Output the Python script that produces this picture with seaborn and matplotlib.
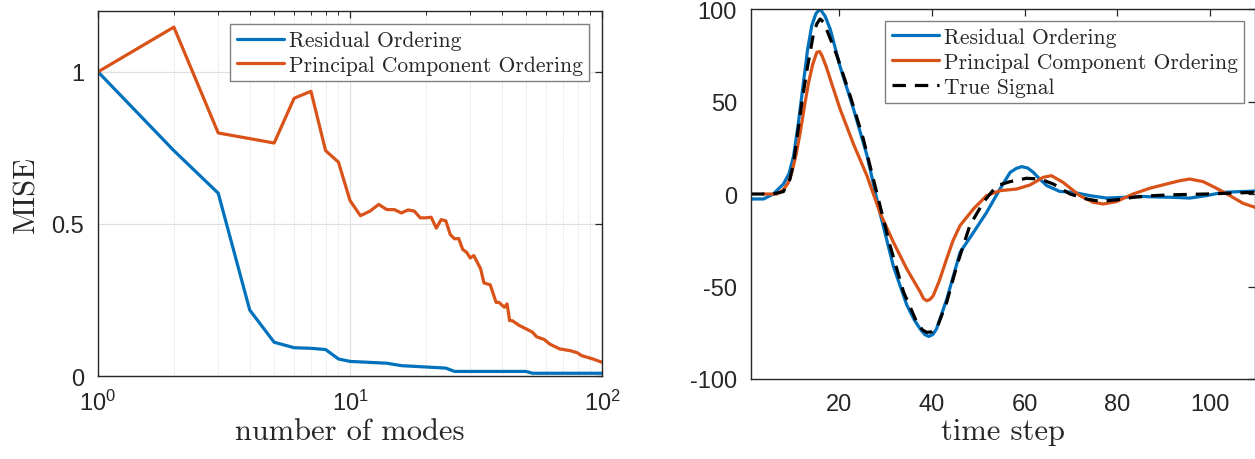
import numpy as np
import pandas as pd
import matplotlib
matplotlib.use("Agg")
import matplotlib.pyplot as plt
import matplotlib.ticker as mticker
import seaborn as sns

# ---- data ----
# left panel: MISE vs number of modes (vertices of the two curves)
res_modes = [1, 2, 3, 4, 5, 6, 7, 8, 9, 10, 14, 16, 24, 26, 50, 53, 100]
res_mise = [1.0, 0.741, 0.601, 0.217, 0.111, 0.093, 0.091, 0.087, 0.056, 0.048,
            0.042, 0.034, 0.026, 0.015, 0.015, 0.009, 0.009]

pc_modes = [1, 2, 3, 5, 6, 7, 8, 9, 10, 11, 12, 13, 14, 15, 16, 17, 18, 19, 20,
            21, 22, 23, 24, 25, 26, 27, 28, 29, 30, 31, 33, 34, 36, 38, 39, 41,
            42, 43, 44, 47, 50, 53, 55, 59, 62, 68, 75, 80, 83, 92, 100]
pc_mise = [1.0, 1.147, 0.799, 0.766, 0.913, 0.936, 0.741, 0.703, 0.577, 0.527,
           0.542, 0.564, 0.547, 0.547, 0.536, 0.546, 0.542, 0.520, 0.520,
           0.522, 0.486, 0.514, 0.510, 0.465, 0.451, 0.452, 0.416, 0.407, 0.388,
           0.396, 0.352, 0.306, 0.300, 0.242, 0.242, 0.226, 0.237, 0.182, 0.182,
           0.166, 0.155, 0.144, 0.129, 0.120, 0.105, 0.089, 0.083, 0.076, 0.067,
           0.056, 0.045]

# right panel: reconstructed signals vs time step
res_t = [1, 3.7, 5.8, 8.0, 9.2, 10.2, 11.2, 12.3, 13.2, 14.1, 15.0, 15.9, 17.0,
         18.1, 20.2, 23.1, 26.0, 28.8, 31.7, 34.6, 36.2, 37.5, 38.5, 39.3, 40.2,
         41.0, 43.2, 46.1, 49.0, 51.8, 54.7, 56.9, 58.2, 59.4, 60.7, 61.9, 63.3,
         64.8, 67.6, 70.5, 74.1, 77.7, 81.3, 84.9, 88.5, 92.1, 95.6, 99.2, 102.8,
         106.4, 109.7]
res_sig = [-2.7, -2.7, 0, 5.4, 11, 20.7, 38, 60, 78, 91, 97.5, 100, 96, 89, 69,
           46, 21, -10, -39, -60, -68, -73, -76, -77, -76, -73, -57, -31.5, -20.7,
           -10, 2.7, 11.7, 13.8, 14.8, 14, 11.7, 8, 4.5, 1.4, 0.9, -0.9, -2.2,
           -1.8, -1.3, -1.6, -1.8, -2.2, -0.9, 0.9, 1.3, 1.6]

pc_t = [3.7, 6.6, 8.0, 9.0, 9.8, 10.7, 11.6, 12.5, 13.4, 14.3, 15.2, 15.8, 16.3,
        17.2, 18.1, 20.2, 23.1, 26.0, 28.8, 31.7, 34.6, 37.5, 38.2, 38.9, 39.6,
        40.3, 41.6, 43.2, 44.6, 46.1, 49.0, 51.8, 54.7, 58.3, 61.2, 64.0, 65.8,
        68.3, 71.9, 74.8, 77.0, 79.8, 83.4, 87.0, 90.6, 93.5, 95.6, 98.5, 101.4,
        104.3, 107.1, 109.7]
pc_sig = [0, 0, 2.3, 6, 11.7, 21, 33, 47, 60, 70, 76.6, 77, 74.8, 69, 62, 46, 27,
          9.9, -10, -26, -40.5, -53, -56.5, -57.7, -57, -55, -47, -35, -25, -17,
          -8, -0.9, 1.8, 2.7, 4.9, 9, 9.9, 6.3, -0.9, -4.5, -5.4, -4.1, 0, 3.1,
          5.4, 7.2, 8.1, 6.7, 3.1, -0.9, -5, -7.2]

true_t = [1, 5.8, 8.0, 9.4, 10.2, 10.9, 12.0, 13.0, 14.5, 15.2, 15.9, 16.6, 17.3,
          19.5, 22.4, 25.2, 28.1, 31.0, 33.9, 36.7, 38.0, 38.9, 40.0, 41.0, 43.2,
          45.4, 48.2, 51.1, 54.0, 56.9, 60.4, 63.3, 66.2, 69.8, 73.4, 76.3, 79.8,
          83.4, 87.7, 92.1, 99.2, 109.7]
true_sig = [0, 0, 1.3, 8, 17, 30, 50, 66, 87, 92, 94.6, 93, 89, 75, 53, 30, 0.9,
            -28, -53, -69, -73.5, -74.8, -74.5, -73, -58.6, -38.7, -17, -4.5, 4.5,
            6.7, 8.5, 8.1, 5.4, 0, -2.7, -4, -3.2, -1.8, -0.9, -0.4, 0, 0.9]

labels = ["Residual Ordering", "Principal Component Ordering", "True Signal"]

# ---- style ----
sns.set_theme(style="white")
plt.rcParams['font.family'] = ['Liberation Sans', 'DejaVu Sans']
plt.rcParams['mathtext.fontset'] = 'custom'
plt.rcParams['mathtext.rm'] = 'Liberation Sans'
plt.rcParams['mathtext.it'] = 'Liberation Sans'
plt.rcParams['mathtext.default'] = 'regular'
plt.rcParams['axes.unicode_minus'] = False

blue = "#0072BD"
orange = "#D95319"
tick_col = "#262626"
serif = dict(family='cmr10', size=22)
legend_font = dict(family='cmr10', size=15.5)

fig = plt.figure(figsize=(12.55, 4.6), dpi=100)
ax1 = fig.add_axes([98 / 1255, 1 - 377 / 460, 504 / 1255, 365 / 460])
ax2 = fig.add_axes([751 / 1255, 1 - 380 / 460, 504 / 1255, 370 / 460])

# ---- left panel ----
df_res = pd.DataFrame({"modes": res_modes, "mise": res_mise})
df_pc = pd.DataFrame({"modes": pc_modes, "mise": pc_mise})
sns.lineplot(data=df_res, x="modes", y="mise", ax=ax1, color=blue, lw=2.3,
             estimator=None, sort=False, label=labels[0])
sns.lineplot(data=df_pc, x="modes", y="mise", ax=ax1, color=orange, lw=2.3,
             estimator=None, sort=False, label=labels[1])
ax1.set_xscale("log")
ax1.set_xlim(1, 100)
ax1.set_ylim(0, 1.2)
ax1.set_yticks([0, 0.5, 1])
ax1.yaxis.set_major_formatter(mticker.FuncFormatter(lambda v, p: f"{v:g}"))
ax1.xaxis.set_major_locator(mticker.LogLocator(base=10, numticks=5))
ax1.xaxis.set_major_formatter(
    mticker.FuncFormatter(lambda v, p: r"$10^{%d}$" % round(np.log10(v))))
ax1.xaxis.set_minor_locator(mticker.LogLocator(base=10, subs=np.arange(2, 10), numticks=20))
ax1.xaxis.set_minor_formatter(mticker.NullFormatter())
ax1.grid(True, which="major", color="#e0e0e0", lw=0.9)
ax1.grid(True, which="minor", axis="x", color="#d8d8d8", lw=0.7, ls=":")
ax1.set_xlabel("number of modes", fontdict=serif, color=tick_col, labelpad=2)
ax1.set_ylabel("MISE", fontdict=serif, color=tick_col, labelpad=8)
ax1.legend(loc="upper right", bbox_to_anchor=(0.974, 0.964), prop=legend_font,
           frameon=True, fancybox=False, framealpha=1, edgecolor="#808080",
           handlelength=2.2, handletextpad=0.2, labelspacing=0.25,
           borderpad=0.3, borderaxespad=0)

# ---- right panel ----
df_r = pd.DataFrame({"t": res_t, "v": res_sig})
df_p = pd.DataFrame({"t": pc_t, "v": pc_sig})
df_s = pd.DataFrame({"t": true_t, "v": true_sig})
sns.lineplot(data=df_r, x="t", y="v", ax=ax2, color=blue, lw=2.3,
             estimator=None, sort=False, label=labels[0])
sns.lineplot(data=df_p, x="t", y="v", ax=ax2, color=orange, lw=2.3,
             estimator=None, sort=False, label=labels[1])
sns.lineplot(data=df_s, x="t", y="v", ax=ax2, color="black", lw=2.3,
             estimator=None, sort=False, label=labels[2], dashes=False)
ax2.lines[-1].set_linestyle((0, (4.2, 2.8)))
ax2.set_xlim(1, 109.7)
ax2.set_ylim(-100, 100)
ax2.set_xticks([20, 40, 60, 80, 100])
ax2.set_yticks([-100, -50, 0, 50, 100])
ax2.set_xlabel("time step", fontdict=serif, color=tick_col, labelpad=2)
ax2.set_ylabel("")
ax2.legend(loc="upper right", bbox_to_anchor=(0.978, 0.968), prop=legend_font,
           frameon=True, fancybox=False, framealpha=1, edgecolor="#808080",
           handlelength=2.2, handletextpad=0.2, labelspacing=0.25,
           borderpad=0.3, borderaxespad=0)

for ax in (ax1, ax2):
    for s in ax.spines.values():
        s.set_visible(True)
        s.set_color(tick_col)
        s.set_linewidth(1.0)
    ax.tick_params(which="both", direction="in", top=True, right=True,
                   labelsize=17, colors=tick_col, pad=10)
    ax.tick_params(which="major", length=5, width=0.9)
    ax.tick_params(which="minor", length=3, width=0.7)

fig.savefig("out.png", dpi=100)
